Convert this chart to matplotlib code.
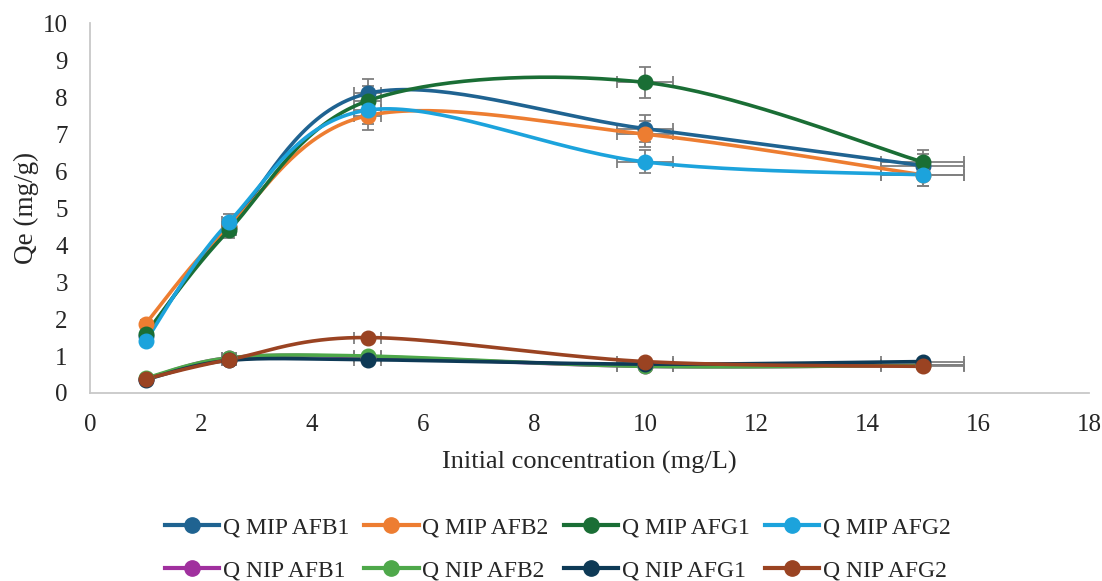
import numpy as np
import matplotlib
matplotlib.use("Agg")
import matplotlib.pyplot as plt
from matplotlib.lines import Line2D

plt.rcParams['font.family'] = ['Liberation Serif', 'DejaVu Serif']

conc = [1, 2.5, 5, 10, 15]
labels = ["Q MIP AFB1", "Q MIP AFB2", "Q MIP AFG1", "Q MIP AFG2",
          "Q NIP AFB1", "Q NIP AFB2", "Q NIP AFG1", "Q NIP AFG2"]
mip_afb1 = [1.55, 4.5, 8.1, 7.15, 6.15]
mip_afb2 = [1.87, 4.5, 7.5, 7.0, 5.9]
mip_afg1 = [1.6, 4.4, 7.9, 8.4, 6.25]
mip_afg2 = [1.4, 4.62, 7.65, 6.25, 5.9]
nip_afb1 = [0.38, 0.95, 0.98, 0.72, 0.75]
nip_afb2 = [0.4, 0.95, 1.0, 0.72, 0.75]
nip_afg1 = [0.36, 0.88, 0.9, 0.78, 0.85]
nip_afg2 = [0.38, 0.9, 1.5, 0.85, 0.72]
series = [mip_afb1, mip_afb2, mip_afg1, mip_afg2, nip_afb1, nip_afb2, nip_afg1, nip_afg2]
colors = ["#1f6391", "#ed7d31", "#1a6e35", "#1ca3dc",
          "#a0309e", "#4ea84a", "#0e3a56", "#9a4322"]
err_pct = 0.05


def smooth(x, y, n=40):
    pts = np.column_stack([x, y]).astype(float)
    out = []
    for i in range(len(pts) - 1):
        p0 = pts[i - 1] if i > 0 else pts[i]
        p1 = pts[i]
        p2 = pts[i + 1]
        p3 = pts[i + 2] if i + 2 < len(pts) else pts[i + 1]
        c1 = p1 + (p2 - p0) / 6
        c2 = p2 - (p3 - p1) / 6
        t = np.linspace(0, 1, n)[:, None]
        seg = ((1 - t) ** 3) * p1 + 3 * ((1 - t) ** 2) * t * c1 + 3 * (1 - t) * t ** 2 * c2 + t ** 3 * p2
        out.append(seg if i == 0 else seg[1:])
    s = np.vstack(out)
    return s[:, 0], s[:, 1]


fig = plt.figure(figsize=(11.02, 5.81), dpi=100)
ax = fig.add_axes([0.0817, 0.3236, 0.9065, 0.6364])

x = np.array(conc, dtype=float)
for vals, col, lab in zip(series, colors, labels):
    y = np.array(vals, dtype=float)
    ax.errorbar(x, y, xerr=x * err_pct, yerr=y * err_pct, fmt='none',
                ecolor='#7f7f7f', elinewidth=1.3, capsize=4, capthick=1.3, zorder=2)
for vals, col, lab in zip(series, colors, labels):
    y = np.array(vals, dtype=float)
    sx, sy = smooth(x, y)
    ax.plot(sx, sy, color=col, lw=2.6, zorder=3, solid_capstyle='round')
    ax.plot(x, y, 'o', color=col, ms=10.5, zorder=4)

ax.set_xlim(0, 18)
ax.set_ylim(0, 10)
ax.set_xticks(range(0, 19, 2))
ax.set_yticks(range(0, 11))
for s in ['top', 'right']:
    ax.spines[s].set_visible(False)
for s in ['left', 'bottom']:
    ax.spines[s].set_color('#c8c8c8')
    ax.spines[s].set_linewidth(1.3)
ax.tick_params(length=0, labelsize=18, colors='#262626')
ax.tick_params(axis='y', pad=16)
ax.tick_params(axis='x', pad=15)
ax.set_xlabel("Initial concentration (mg/L)", fontsize=19, labelpad=11, color='#262626')
ax.set_ylabel("Qe (mg/g)", fontsize=19.5, labelpad=3, color='#262626')

order = [0, 4, 1, 5, 2, 6, 3, 7]
handles = [Line2D([0], [0], color=c, lw=3, marker='o', ms=11) for c in colors]
fig.legend([handles[i] for i in order], [labels[i] for i in order],
           loc='center', bbox_to_anchor=(0.506, 0.055), ncol=4,
           frameon=False, fontsize=17, handlelength=2.3, handletextpad=0.15,
           columnspacing=0.65, labelspacing=0.9, borderpad=0.2,
           labelcolor='#262626')

fig.savefig("out.png", dpi=100)
